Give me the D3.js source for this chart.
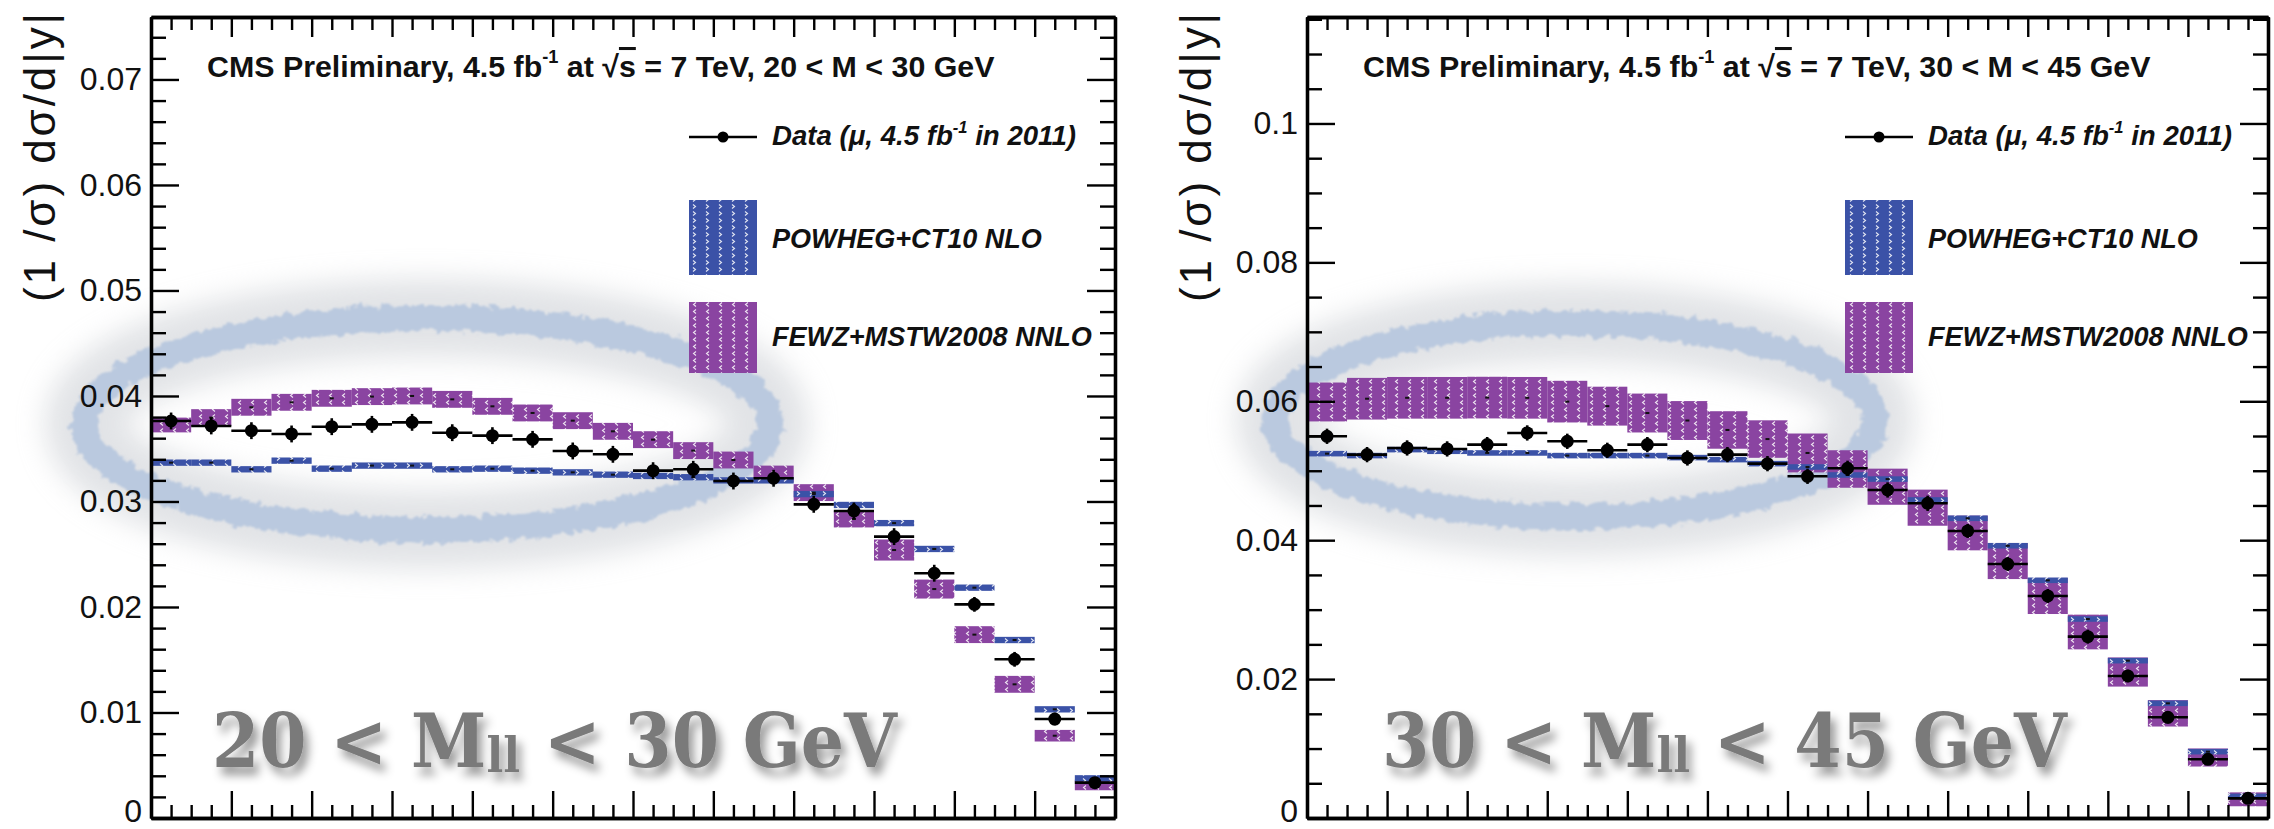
<!DOCTYPE html>
<html>
<head>
<meta charset="utf-8">
<script src="https://d3js.org/d3.v7.min.js"></script>
<style>
body{margin:0;background:#fff}
svg{display:block}
</style>
</head>
<body>
<svg id="chart" width="2274" height="829"></svg>
<script>
/* rapidity bins: lower edge of |y|, width 0.1 */
var binLow=[0.0,0.1,0.2,0.3,0.4,0.5,0.6,0.7,0.8,0.9,1.0,1.1,1.2,1.3,1.4,1.5,1.6,1.7,1.8,1.9,2.0,2.1,2.2,2.3];
var binW=0.1;
var xTicks=[0,0.2,0.4,0.6,0.8,1.0,1.2,1.4,1.6,1.8,2.0,2.2,2.4];

/* 20 < M < 30 GeV */
var data2030=[0.03763,0.03716,0.03671,0.0364,0.03709,0.03731,0.0375,0.03652,0.03624,0.03589,0.03479,0.03447,0.03292,0.03305,0.03194,0.0322,0.02973,0.0291,0.02667,0.0232,0.02025,0.01504,0.00938,0.00335];
var dataErr2030=[0.0008,0.0008,0.0008,0.0008,0.0008,0.0008,0.0008,0.0008,0.0008,0.0008,0.0008,0.0008,0.0008,0.0008,0.0008,0.0008,0.0008,0.0008,0.0008,0.0008,0.0007,0.0007,0.0006,0.0005];
var powheg2030=[0.03368,0.03368,0.03305,0.03387,0.03311,0.0334,0.0334,0.03305,0.03311,0.03292,0.03276,0.03254,0.03242,0.0323,0.032,0.032,0.0307,0.02967,0.02795,0.0255,0.02183,0.01687,0.0103,0.00376];
var powhegErr2030=[0.0003,0.0003,0.0003,0.0003,0.0003,0.0003,0.0003,0.0003,0.0003,0.0003,0.0003,0.0003,0.0003,0.0003,0.0003,0.0003,0.0003,0.0003,0.0003,0.0003,0.0003,0.0003,0.0003,0.0003];
var fewz2030=[0.03725,0.03795,0.03893,0.0394,0.03978,0.03994,0.04,0.03968,0.03902,0.03839,0.03766,0.03665,0.03586,0.03482,0.03393,0.0326,0.03084,0.02834,0.0254,0.0217,0.01738,0.01267,0.0078,0.00313];
var fewzErr2030=[0.0007,0.0008,0.0008,0.0008,0.0008,0.0008,0.0008,0.0008,0.0008,0.0008,0.0008,0.0008,0.0008,0.0008,0.0008,0.0008,0.0008,0.0008,0.001,0.0009,0.0008,0.0008,0.00055,0.0005];
var yTicks2030=[0,0.01,0.02,0.03,0.04,0.05,0.06,0.07];

/* 30 < M < 45 GeV */
var data3045=[0.05496,0.05232,0.05328,0.05314,0.05376,0.05544,0.05424,0.05294,0.05376,0.05184,0.05232,0.05102,0.0492,0.05035,0.04723,0.04531,0.04133,0.03657,0.03197,0.02611,0.02045,0.0145,0.00845,0.00283];
var dataErr3045=[0.0011,0.0011,0.0011,0.0011,0.0011,0.0011,0.0011,0.0011,0.0011,0.0011,0.0011,0.0011,0.0011,0.0011,0.0011,0.0011,0.001,0.001,0.001,0.001,0.0009,0.0009,0.0008,0.0007];
var powheg3045=[0.05246,0.05218,0.05304,0.0528,0.05256,0.05256,0.05218,0.05218,0.05218,0.05189,0.0516,0.05102,0.05054,0.04939,0.0488,0.04579,0.04315,0.0392,0.03422,0.02865,0.02265,0.01651,0.00955,0.00321];
var powhegErr3045=[0.0004,0.0004,0.0004,0.0004,0.0004,0.0004,0.0004,0.0004,0.0004,0.0004,0.0004,0.0004,0.0004,0.0004,0.0004,0.0004,0.0004,0.0004,0.0004,0.0004,0.0004,0.0004,0.0004,0.0003];
var fewz3045=[0.0599,0.06037,0.0605,0.0605,0.06053,0.0605,0.05995,0.0593,0.05831,0.05723,0.05587,0.05456,0.05256,0.05025,0.0477,0.04468,0.04104,0.037,0.03197,0.02678,0.02102,0.01507,0.00871,0.00269];
var fewzErr3045=[0.0028,0.003,0.003,0.003,0.003,0.003,0.003,0.0028,0.0028,0.0028,0.0027,0.0027,0.0028,0.0027,0.0026,0.0026,0.0025,0.0026,0.0026,0.0025,0.0021,0.0019,0.0013,0.001];
var yTicks3045=[0,0.02,0.04,0.06,0.08,0.1];

var legendLabels=["POWHEG+CT10 NLO","FEWZ+MSTW2008 NNLO"];

var BLUE="#3b52a7", PURPLE="#8a44a1";
var SANS="'Liberation Sans', Arial, Helvetica, sans-serif";
var svg=d3.select("#chart");
svg.append("rect").attr("width",2274).attr("height",829).attr("fill","#fff");
var defs=svg.append("defs");

/* hatch fills with the little white chevrons */
function hatch(id,col,right){
	var p=defs.append("pattern").attr("id",id).attr("width",13).attr("height",7).attr("patternUnits","userSpaceOnUse");
	p.append("rect").attr("width",13).attr("height",7).attr("fill",col);
	p.append("path").attr("d",right?"M4,1.5L6.5,3.5L4,5.5":"M7,1.5L4.5,3.5L7,5.5")
		.attr("stroke","#fff").attr("stroke-width",1.1).attr("fill","none").attr("opacity",0.85);
}
hatch("hPow",BLUE,true);
hatch("hFewz",PURPLE,false);

var f=defs.append("filter").attr("id","halo").attr("x","-25%").attr("y","-70%").attr("width","150%").attr("height","240%");
f.append("feGaussianBlur").attr("stdDeviation",14);
f=defs.append("filter").attr("id","rough").attr("x","-10%").attr("y","-40%").attr("width","120%").attr("height","180%");
f.append("feTurbulence").attr("type","fractalNoise").attr("baseFrequency",0.12).attr("numOctaves",3).attr("seed",3).attr("result","n");
f.append("feDisplacementMap").attr("in","SourceGraphic").attr("in2","n").attr("scale",12).attr("xChannelSelector","R").attr("yChannelSelector","G").attr("result","d");
f.append("feGaussianBlur").attr("in","d").attr("stdDeviation",0.8);
f=defs.append("filter").attr("id","shadow").attr("x","-10%").attr("y","-40%").attr("width","125%").attr("height","190%");
f.append("feDropShadow").attr("dx",5).attr("dy",8).attr("stdDeviation",5).attr("flood-color","#000").attr("flood-opacity",0.4);

function bins(v,e){
	return binLow.map(function(lo,i){ return {lo:lo,v:v[i],e:e[i]}; });
}
function fitText(t,target){
	var w=t.node().getComputedTextLength();
	t.attr("font-size",+t.attr("font-size")*target/w);
}
function fmt(d){ return d===0?"0":String(d); }

var panels=[
	{x0:151,x1:1115,yMax:0.07592,ticks:yTicks2030,minor:0.002,
	 data:data2030,dataErr:dataErr2030,pow:powheg2030,powErr:powhegErr2030,fewz:fewz2030,fewzErr:fewzErr2030,
	 lo:"20",hi:"30",big:212,ell:[427,424,343,106]},
	{x0:1307,x1:2268,yMax:0.11533,ticks:yTicks3045,minor:0.005,
	 data:data3045,dataErr:dataErr3045,pow:powheg3045,powErr:powhegErr3045,fewz:fewz3045,fewzErr:fewzErr3045,
	 lo:"30",hi:"45",big:1382,ell:[1575,420,300,97]}
];

panels.forEach(function(p){
	var x=d3.scaleLinear().domain([0,2.4]).range([p.x0,p.x1]);
	var y=d3.scaleLinear().domain([0,p.yMax]).range([818,17]);
	var g=svg.append("g");

	/* hand drawn highlight ellipse */
	g.append("ellipse").attr("cx",p.ell[0]).attr("cy",p.ell[1]).attr("rx",p.ell[2]).attr("ry",p.ell[3])
		.attr("fill","none").attr("stroke","#c4c8ce").attr("stroke-width",78).attr("opacity",0.5).attr("filter","url(#halo)");
	g.append("ellipse").attr("cx",p.ell[0]).attr("cy",p.ell[1]).attr("rx",p.ell[2]).attr("ry",p.ell[3])
		.attr("fill","none").attr("stroke","#bac9df").attr("stroke-width",26).attr("filter","url(#rough)");

	/* FEWZ band */
	g.append("g").selectAll("rect").data(bins(p.fewz,p.fewzErr)).enter().append("rect")
		.attr("x",function(d){ return x(d.lo); })
		.attr("width",function(d){ return x(d.lo+binW)-x(d.lo); })
		.attr("y",function(d){ return y(d.v+d.e); })
		.attr("height",function(d){ return y(d.v-d.e)-y(d.v+d.e); })
		.attr("fill","url(#hFewz)");
	/* POWHEG band */
	g.append("g").selectAll("rect").data(bins(p.pow,p.powErr)).enter().append("rect")
		.attr("x",function(d){ return x(d.lo); })
		.attr("width",function(d){ return x(d.lo+binW)-x(d.lo); })
		.attr("y",function(d){ return y(d.v+d.e); })
		.attr("height",function(d){ return y(d.v-d.e)-y(d.v+d.e); })
		.attr("fill","url(#hPow)");
	/* central value marks of the predictions */
	g.append("g").selectAll("rect").data(bins(p.fewz,p.fewzErr).concat(bins(p.pow,p.powErr))).enter().append("rect")
		.attr("x",function(d){ return x(d.lo+binW/2)-2; })
		.attr("y",function(d){ return y(d.v)-1; })
		.attr("width",4).attr("height",2).attr("fill","#111");

	/* data points */
	var pts=g.append("g").selectAll("g").data(bins(p.data,p.dataErr)).enter().append("g");
	pts.append("line")
		.attr("x1",function(d){ return x(d.lo); }).attr("x2",function(d){ return x(d.lo+binW); })
		.attr("y1",function(d){ return y(d.v); }).attr("y2",function(d){ return y(d.v); })
		.attr("stroke","#000").attr("stroke-width",2.6);
	pts.append("line")
		.attr("x1",function(d){ return x(d.lo+binW/2); }).attr("x2",function(d){ return x(d.lo+binW/2); })
		.attr("y1",function(d){ return y(d.v-d.e); }).attr("y2",function(d){ return y(d.v+d.e); })
		.attr("stroke","#000").attr("stroke-width",2.6);
	pts.append("circle")
		.attr("cx",function(d){ return x(d.lo+binW/2); }).attr("cy",function(d){ return y(d.v); })
		.attr("r",6.5).attr("fill","#000");

	/* axes, ticks pointing inside */
	var nMinor=Math.round(p.yMax/p.minor);
	var yMinor=d3.range(0,nMinor+1).map(function(k){ return +(k*p.minor).toFixed(4); })
		.filter(function(v){ return v<=p.yMax && p.ticks.indexOf(v)<0; });
	var xMinor=d3.range(0,49).map(function(k){ return +(k*0.05).toFixed(2); })
		.filter(function(v){ return xTicks.indexOf(v)<0; });

	var ax=g.append("g");
	ax.append("g").attr("transform","translate("+p.x0+",0)")
		.call(d3.axisLeft(y).tickValues(p.ticks).tickSize(-28).tickSizeOuter(0).tickPadding(9).tickFormat(fmt));
	ax.append("g").attr("transform","translate("+p.x0+",0)")
		.call(d3.axisLeft(y).tickValues(yMinor).tickSize(-15).tickSizeOuter(0).tickFormat(""));
	ax.append("g").attr("transform","translate("+p.x1+",0)")
		.call(d3.axisRight(y).tickValues(p.ticks).tickSize(-28).tickSizeOuter(0).tickFormat(""));
	ax.append("g").attr("transform","translate("+p.x1+",0)")
		.call(d3.axisRight(y).tickValues(yMinor).tickSize(-15).tickSizeOuter(0).tickFormat(""));
	ax.append("g").attr("transform","translate(0,818)")
		.call(d3.axisBottom(x).tickValues(xTicks).tickSize(-27).tickSizeOuter(0).tickFormat(""));
	ax.append("g").attr("transform","translate(0,818)")
		.call(d3.axisBottom(x).tickValues(xMinor).tickSize(-13).tickSizeOuter(0).tickFormat(""));
	ax.append("g").attr("transform","translate(0,17)")
		.call(d3.axisTop(x).tickValues(xTicks).tickSize(-20).tickSizeOuter(0).tickFormat(""));
	ax.append("g").attr("transform","translate(0,17)")
		.call(d3.axisTop(x).tickValues(xMinor).tickSize(-13).tickSizeOuter(0).tickFormat(""));
	ax.selectAll("path.domain").attr("stroke","#000").attr("stroke-width",3.3);
	ax.selectAll(".tick line").attr("stroke","#000").attr("stroke-width",2.4);
	ax.selectAll(".tick text").style("font-family",SANS).attr("font-size",32).attr("fill","#111")
		.attr("dy",function(d){ return d===0?"0.12em":"0.32em"; });

	/* y title */
	g.append("text").attr("transform","translate("+(p.x0-96)+",13) rotate(-90)")
		.style("font-family",SANS).attr("text-anchor","end").attr("font-size",44).attr("fill","#111")
		.attr("textLength",289).attr("lengthAdjust","spacing")
		.text("(1 /σ) dσ/d|y|");

	/* header */
	var t=g.append("text").attr("x",p.x0+56).attr("y",77).style("font-family",SANS)
		.attr("font-size",26).attr("font-weight","bold").attr("fill","#111");
	t.append("tspan").text("CMS Preliminary, 4.5 fb");
	t.append("tspan").style("font-size","60%").attr("dy","-0.75em").text("-1");
	t.append("tspan").attr("dy","0.45em").text(" at ");
	t.append("tspan").text("√");
	t.append("tspan").style("text-decoration","overline").text("s");
	t.append("tspan").text(" = 7 TeV, "+p.lo+" < M < "+p.hi+" GeV");
	fitText(t,788);

	/* legend */
	var lx=p.x0+538;
	g.append("line").attr("x1",lx).attr("x2",lx+68).attr("y1",137).attr("y2",137).attr("stroke","#000").attr("stroke-width",2.4);
	g.append("circle").attr("cx",lx+34).attr("cy",137).attr("r",5.5).attr("fill","#000");
	var lt=g.append("text").attr("x",p.x0+621).attr("y",145).attr("font-size",24).style("font-family",SANS)
		.attr("font-weight","bold").attr("font-style","italic").attr("fill","#111");
	lt.append("tspan").text("Data (μ, 4.5 fb");
	lt.append("tspan").style("font-size","60%").attr("dy","-0.75em").text("-1");
	lt.append("tspan").attr("dy","0.45em").text(" in 2011)");
	fitText(lt,304);
	g.append("rect").attr("x",lx).attr("y",200).attr("width",68).attr("height",75).attr("fill","url(#hPow)");
	g.append("rect").attr("x",lx).attr("y",302).attr("width",68).attr("height",71).attr("fill","url(#hFewz)");
	var l1=g.append("text").attr("x",p.x0+621).attr("y",248).attr("font-size",24).style("font-family",SANS)
		.attr("font-weight","bold").attr("font-style","italic").attr("fill","#111").text(legendLabels[0]);
	fitText(l1,270);
	var l2=g.append("text").attr("x",p.x0+621).attr("y",346).attr("font-size",24).style("font-family",SANS)
		.attr("font-weight","bold").attr("font-style","italic").attr("fill","#111").text(legendLabels[1]);
	fitText(l2,320);

	/* big grey mass window label */
	var b=g.append("text").attr("x",p.big).attr("y",767).attr("font-size",74)
		.style("font-family","'DejaVu Serif', 'Liberation Serif', serif").style("font-stretch","condensed")
		.attr("font-weight","bold").attr("fill","#7a7a7a").attr("filter","url(#shadow)");
	b.append("tspan").text(p.lo+" < M");
	b.append("tspan").style("font-size","65%").attr("dy","0.1em").text("ll");
	b.append("tspan").attr("dy","-0.065em").text(" < "+p.hi+" GeV");
	fitText(b,685);
});
</script>
</body>
</html>
